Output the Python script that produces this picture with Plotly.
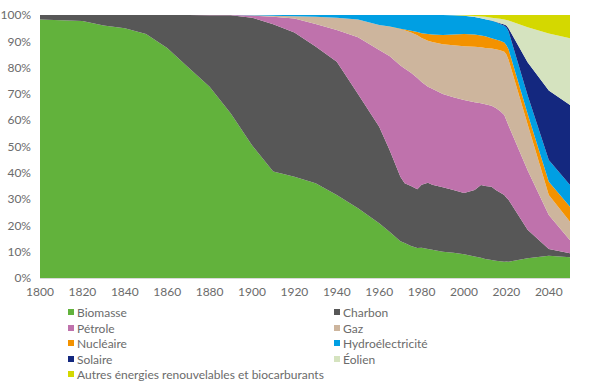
import plotly.graph_objects as go

years = [1800, 1810, 1820, 1830, 1840, 1850, 1860, 1870, 1880, 1890,
         1900, 1910, 1920, 1930, 1940, 1950, 1960, 1965, 1970, 1972,
         1975, 1978, 1980, 1983, 1985, 1990, 1995, 2000, 2005, 2008,
         2010, 2013, 2015, 2017, 2019, 2020, 2021, 2030, 2040, 2050]

biomasse = [98.3, 98.0, 97.7, 96.0, 95.0, 92.8, 87.5, 80.0, 72.7, 62.5,
            50.5, 40.5, 38.5, 36.0, 31.6, 26.5, 20.8, 17.5, 14.0, 13.3,
            12.2, 11.4, 11.5, 11.0, 10.7, 10.0, 9.6, 9.0, 8.2, 7.7,
            7.2, 6.8, 6.6, 6.4, 6.2, 6.3, 6.2, 7.5, 8.5, 7.9]
charbon = [1.7, 2.0, 2.3, 4.0, 5.0, 7.2, 12.5, 20.0, 27.25, 37.35,
           48.5, 56.0, 54.8, 52.0, 50.6, 43.5, 36.7, 31.0, 24.5, 22.7,
           22.8, 22.3, 24.0, 25.2, 24.8, 24.5, 23.9, 23.3, 25.3, 27.7,
           27.8, 27.9, 26.9, 26.1, 25.4, 24.2, 23.6, 10.8, 2.5, 1.5]
petrole = [0, 0, 0, 0, 0, 0, 0, 0, 0.05, 0.1,
           0.8, 2.8, 5.4, 8.6, 12.1, 21.5, 29.2, 35.8, 42.3, 43.7,
           43.0, 42.3, 39.0, 36.5, 36.5, 35.5, 35.2, 35.4, 33.3, 31.0,
           31.1, 30.8, 31.1, 31.0, 30.4, 29.5, 28.2, 22.7, 13.0, 5.0]
gaz = [0, 0, 0, 0, 0, 0, 0, 0, 0, 0,
       0.1, 0.45, 0.8, 2.7, 4.7, 6.8, 9.5, 11.2, 13.8, 14.5,
       15.3, 16.3, 16.8, 17.5, 17.7, 18.9, 19.8, 20.4, 21.1, 21.3,
       21.4, 21.8, 22.4, 23.1, 24.0, 25.0, 25.0, 17.5, 7.6, 7.0]
nucleaire = [0, 0, 0, 0, 0, 0, 0, 0, 0, 0,
             0, 0, 0, 0, 0, 0, 0, 0.1, 0.2, 0.3,
             0.7, 1.2, 1.8, 2.6, 2.9, 3.5, 4.1, 4.7, 4.7, 4.5,
             4.4, 3.9, 3.7, 3.6, 3.5, 3.5, 4.0, 4.0, 5.0, 5.7]
hydro = [0, 0, 0, 0, 0, 0, 0, 0, 0, 0,
         0.1, 0.25, 0.5, 0.7, 1.0, 1.7, 3.8, 4.4, 5.2, 5.5,
         6.0, 6.5, 6.9, 7.2, 7.4, 7.6, 7.35, 6.9, 6.6, 6.6,
         6.5, 6.6, 6.6, 6.4, 6.4, 6.7, 6.8, 7.0, 8.3, 8.3]
solaire = [0, 0, 0, 0, 0, 0, 0, 0, 0, 0,
           0, 0, 0, 0, 0, 0, 0, 0, 0, 0,
           0, 0, 0, 0, 0, 0, 0, 0, 0, 0,
           0, 0.1, 0.15, 0.3, 0.5, 0.8, 1.2, 12.5, 26.4, 30.4]
eolien = [0, 0, 0, 0, 0, 0, 0, 0, 0, 0,
          0, 0, 0, 0, 0, 0, 0, 0, 0, 0,
          0, 0, 0, 0, 0, 0, 0.05, 0.15, 0.4, 0.6,
          0.9, 1.1, 1.35, 1.7, 1.9, 2.1, 2.9, 13.3, 21.7, 25.4]
autres = [0, 0, 0, 0, 0, 0, 0, 0, 0, 0,
          0, 0, 0, 0, 0, 0, 0, 0, 0, 0,
          0, 0, 0, 0, 0, 0, 0, 0.15, 0.4, 0.6,
          0.7, 1.0, 1.2, 1.4, 1.7, 1.9, 2.1, 4.7, 7.0, 8.8]

names = ["Biomasse", "Charbon", "Pétrole", "Gaz", "Nucléaire",
         "Hydroélectricité", "Solaire", "Éolien",
         "Autres énergies renouvelables et biocarburants"]
series = [biomasse, charbon, petrole, gaz, nucleaire, hydro, solaire, eolien, autres]
colors = ["#62b23c", "#575757", "#bf72ac", "#cdb59d", "#f39200",
          "#009fe3", "#14287f", "#d5e3bf", "#d4d800"]

x_ticks = list(range(1800, 2041, 20))
y_ticks = list(range(0, 101, 10))

fig = go.Figure()
for name, vals, col in zip(names, series, colors):
    fig.add_trace(go.Scatter(
        x=years, y=vals, name=name, mode="none",
        stackgroup="one", groupnorm="percent",
        fill="tonexty", fillcolor=col, showlegend=False,
        hoverinfo="skip"))

font_family = "Lato, 'Open Sans', sans-serif"
text_color = "#6b6b6b"

# Legend built from layout shapes/annotations (two columns)
L, T, W, H = 40, 15, 530, 263
col_x = [68, 334]
row_y = [312, 328, 343, 359, 374]
for i, (name, col) in enumerate(zip(names, colors)):
    r, c = divmod(i, 2)
    px, py = col_x[c], row_y[r]
    x0 = (px - L) / W
    x1 = (px + 6 - L) / W
    y0 = (T + H - (py + 3)) / H
    y1 = (T + H - (py - 3)) / H
    fig.add_shape(type="rect", xref="paper", yref="paper",
                  x0=x0, x1=x1, y0=y0, y1=y1,
                  fillcolor=col, line=dict(width=0))
    fig.add_annotation(xref="paper", yref="paper",
                       x=(px + 7 - L) / W, y=(T + H - py) / H,
                       text=name, showarrow=False,
                       xanchor="left", yanchor="middle",
                       font=dict(family=font_family, size=12, color=text_color))

fig.update_layout(
    width=600, height=383,
    margin=dict(l=L, r=600 - L - W, t=T, b=383 - T - H),
    paper_bgcolor="white", plot_bgcolor="white",
    showlegend=False,
    font=dict(family=font_family, size=12, color=text_color),
    xaxis=dict(range=[1800, 2050], tickvals=x_ticks,
               ticktext=[str(v) for v in x_ticks],
               showgrid=False, zeroline=False, showline=True,
               linecolor="#d9d9d9", linewidth=1, ticks="",
               ticklabelstandoff=3, automargin=False,
               tickfont=dict(size=12, color=text_color)),
    yaxis=dict(range=[0, 100], tickvals=y_ticks,
               ticktext=[f"{v}%" for v in y_ticks],
               showgrid=False, zeroline=False, showline=False, ticks="",
               ticklabelstandoff=8, automargin=False,
               tickfont=dict(size=12, color=text_color)),
)

fig.write_html("out.html",
               config={"displayModeBar": False, "staticPlot": True},
               post_script="document.body.style.margin='0';document.body.style.padding='0';")
